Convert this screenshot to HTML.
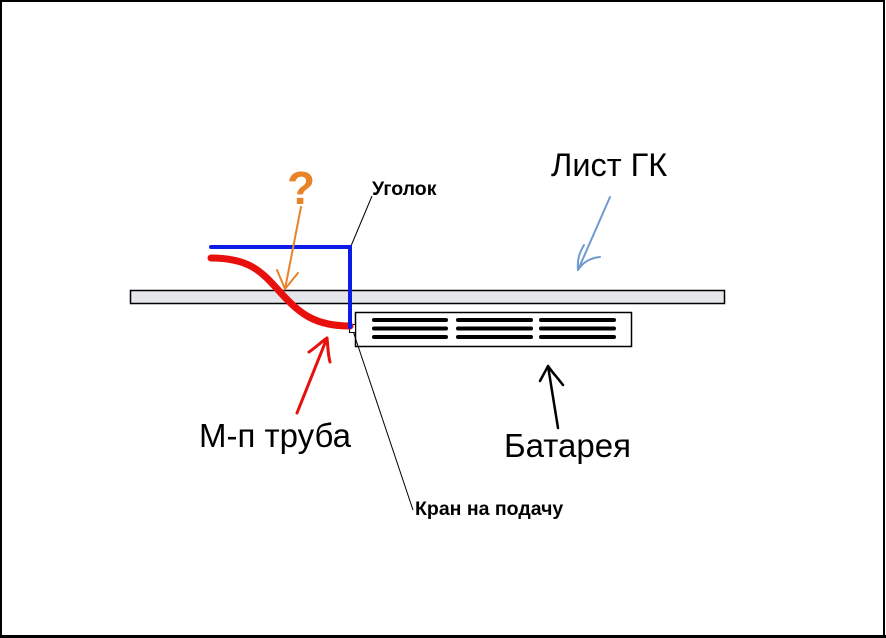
<!DOCTYPE html>
<html><head><meta charset="utf-8"><style>
html,body{margin:0;padding:0;background:#fff}
svg{display:block}
text{font-family:"Liberation Sans",sans-serif}
</style></head><body>
<svg width="886" height="638" viewBox="0 0 886 638" xmlns="http://www.w3.org/2000/svg">
<rect x="0" y="0" width="886" height="638" fill="#fff"/>
<rect x="1" y="1" width="883" height="635" fill="none" stroke="#000" stroke-width="2"/>
<line x1="0" y1="636.5" x2="886" y2="636.5" stroke="#000" stroke-width="3"/>
<rect x="130.5" y="290.5" width="594" height="13" fill="#e4e6ea" stroke="#000" stroke-width="1.5"/>
<rect x="355.5" y="312.5" width="276" height="34" fill="#fff" stroke="#000" stroke-width="1.5"/>
<g stroke="#000" stroke-width="4" stroke-linecap="round">
<line x1="374" y1="320" x2="446" y2="320"/><line x1="374" y1="328.5" x2="446" y2="328.5"/><line x1="374" y1="337" x2="446" y2="337"/>
<line x1="458" y1="320" x2="531" y2="320"/><line x1="458" y1="328.5" x2="531" y2="328.5"/><line x1="458" y1="337" x2="531" y2="337"/>
<line x1="541" y1="320" x2="614" y2="320"/><line x1="541" y1="328.5" x2="614" y2="328.5"/><line x1="541" y1="337" x2="614" y2="337"/>
</g>
<line x1="372" y1="196" x2="351" y2="246" stroke="#000" stroke-width="1"/>
<line x1="352" y1="328" x2="413" y2="510" stroke="#000" stroke-width="1"/>
<rect x="349.5" y="324.5" width="6" height="8" fill="#fff" stroke="#000" stroke-width="1"/>
<path d="M211 258 C250 258 262 272 280 292 C300 314 315 326 350 326" fill="none" stroke="#e8100c" stroke-width="7" stroke-linecap="round"/>
<path d="M211 247 L350 247 L350 327" fill="none" stroke="#0b1ce8" stroke-width="4" stroke-linecap="round" stroke-linejoin="miter"/>
<text x="287" y="204" font-size="46" font-weight="bold" fill="#e8832a">?</text>
<path d="M301 207 L285 289 M277 270 L285 289 L298 273" fill="none" stroke="#e8832a" stroke-width="2" stroke-linecap="round"/>
<path d="M610 197 L578 270 M578 270 C577 258 580 252 584 245 M578 270 C583 262 590 258 600 257" fill="none" stroke="#6f9bd0" stroke-width="2" stroke-linecap="round"/>
<path d="M297 413 L327 338 M327 338 C320 343 315 348 309 352 M327 338 C328 347 328 355 330 362" fill="none" stroke="#e8100c" stroke-width="3" stroke-linecap="round"/>
<path d="M558 428 L548 366 M548 366 C545 372 542 377 540 381 M548 366 C552 372 556 376 563 385" fill="none" stroke="#000" stroke-width="2.5" stroke-linecap="round"/>
<text x="551" y="176" font-size="32.5" fill="#000">Лист ГК</text>
<text x="199" y="447" font-size="33" fill="#000">М-п труба</text>
<text x="504" y="457" font-size="33" fill="#000">Батарея</text>
<text x="372" y="195" font-size="19.5" font-weight="bold" fill="#000">Уголок</text>
<text x="415" y="515" font-size="19.5" font-weight="bold" fill="#000">Кран на подачу</text>
</svg>
</body></html>
